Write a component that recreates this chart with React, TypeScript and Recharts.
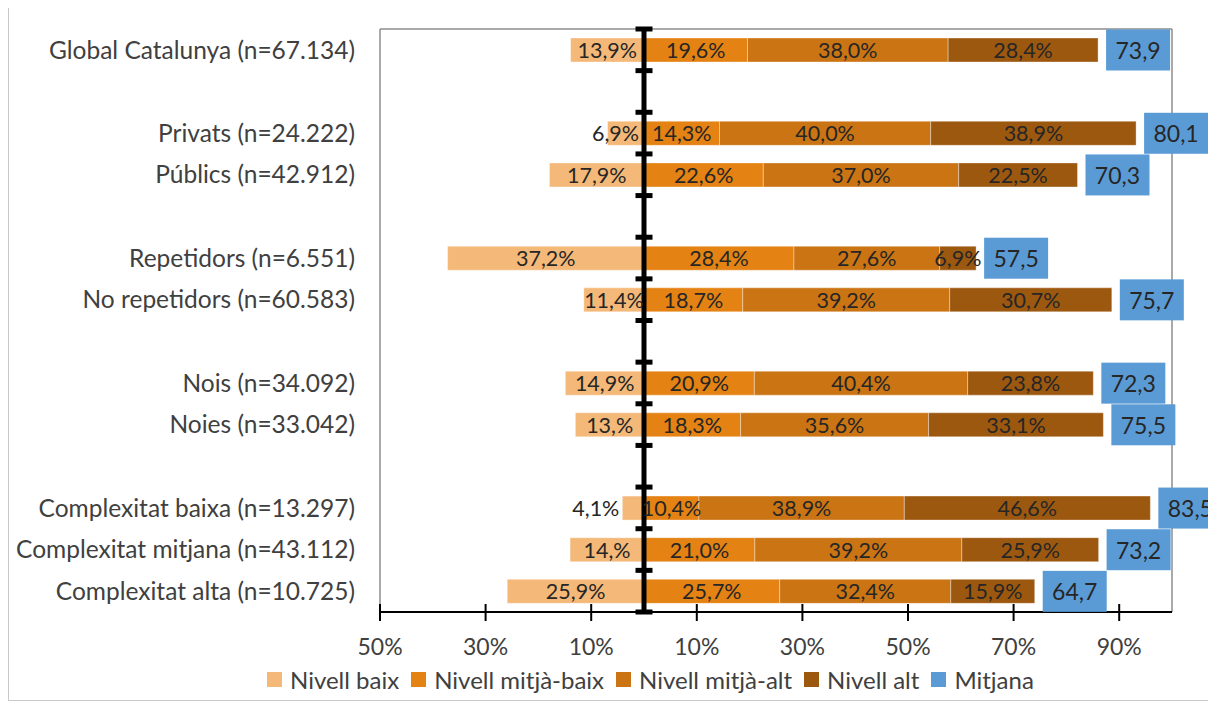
import { Bar, BarChart, CartesianGrid, LabelList, Legend, ReferenceLine, XAxis, YAxis } from 'recharts'

const FONT = 'Lato, "Noto Sans", sans-serif'
const TEXT = '#262626'
const AXIS_TEXT = '#404040'

const COLORS = {
  baix: '#F4B978',
  mitjaBaix: '#E48213',
  mitjaAlt: '#CB7414',
  alt: '#9D5810',
  mitjana: '#5B9BD5',
}

// blank rows are spacer rows between the groups
const categories = [
  'Global Catalunya (n=67.134)',
  ' ',
  'Privats (n=24.222)',
  'Públics (n=42.912)',
  '  ',
  'Repetidors (n=6.551)',
  'No repetidors (n=60.583)',
  '   ',
  'Nois (n=34.092)',
  'Noies (n=33.042)',
  '    ',
  'Complexitat baixa (n=13.297)',
  'Complexitat mitjana (n=43.112)',
  'Complexitat alta (n=10.725)',
]
const nivellBaix = [13.9, null, 6.9, 17.9, null, 37.2, 11.4, null, 14.9, 13.0, null, 4.1, 14.0, 25.9]
const nivellMitjaBaix = [19.6, null, 14.3, 22.6, null, 28.4, 18.7, null, 20.9, 18.3, null, 10.4, 21.0, 25.7]
const nivellMitjaAlt = [38.0, null, 40.0, 37.0, null, 27.6, 39.2, null, 40.4, 35.6, null, 38.9, 39.2, 32.4]
const nivellAlt = [28.4, null, 38.9, 22.5, null, 6.9, 30.7, null, 23.8, 33.1, null, 46.6, 25.9, 15.9]
const mitjana = [73.9, null, 80.1, 70.3, null, 57.5, 75.7, null, 72.3, 75.5, null, 83.5, 73.2, 64.7]

const xTicks = [-50, -30, -10, 10, 30, 50, 70, 90]

const data = categories.map((name, i) => ({
  name,
  baix: nivellBaix[i] == null ? null : -(nivellBaix[i] as number),
  mitjaBaix: nivellMitjaBaix[i],
  mitjaAlt: nivellMitjaAlt[i],
  alt: nivellAlt[i],
  mitjana: mitjana[i],
}))

const legendItems = [
  { label: 'Nivell baix', color: COLORS.baix },
  { label: 'Nivell mitjà-baix', color: COLORS.mitjaBaix },
  { label: 'Nivell mitjà-alt', color: COLORS.mitjaAlt },
  { label: 'Nivell alt', color: COLORS.alt },
  { label: 'Mitjana', color: COLORS.mitjana },
]

// Excel style formats: "0,0%" for most, "#,#%" for the low level series
const fmtPct = (v: number) => Math.abs(v).toFixed(1).replace('.', ',') + '%'
const fmtPctShort = (v: number) => {
  const [i, d] = Math.abs(v).toFixed(1).split('.')
  return `${i},${d === '0' ? '' : d}%`
}
const fmtMean = (v: number) => v.toFixed(1).replace('.', ',')

const makeLabel = (fmt: (v: number) => string, nudgeNarrow = false) => (props: any) => {
  const { x, y, width, height, value } = props
  if (value == null) return null
  const left = Math.min(Number(x), Number(x) + Number(width))
  const w = Math.abs(Number(width))
  const cy = Number(y) + Number(height) / 2
  let tx = left + w / 2
  let anchor: 'middle' | 'end' = 'middle'
  if (nudgeNarrow && w < 30) {
    tx = left - 3
    anchor = 'end'
  } else if (nudgeNarrow && w < 45) {
    tx = left + w - 5
    anchor = 'end'
  }
  return (
    <text
      x={tx}
      y={cy}
      textAnchor={anchor}
      dominantBaseline="central"
      fill={TEXT}
      fontSize={21.5}
      fontFamily={FONT}
    >
      {fmt(Number(value))}
    </text>
  )
}

const MeanLabel = (props: any) => {
  const { x, y, width, height, value } = props
  if (value == null) return null
  const end = Number(x) + Number(width)
  const cy = Number(y) + Number(height) / 2
  return (
    <g>
      <rect x={end + 8} y={cy - 20.5} width={64} height={41} fill={COLORS.mitjana} />
      <text
        x={end + 40}
        y={cy}
        textAnchor="middle"
        dominantBaseline="central"
        fill={TEXT}
        fontSize={23}
        fontFamily={FONT}
      >
        {fmtMean(Number(value))}
      </text>
    </g>
  )
}

const XTick = (props: any) => {
  const { x, y, payload } = props
  return (
    <g>
      <line x1={x} x2={x} y1={y - 8} y2={y + 9} stroke="#000" strokeWidth={2} />
      <text
        x={x}
        y={y + 34}
        textAnchor="middle"
        dominantBaseline="central"
        fill={AXIS_TEXT}
        fontSize={23}
        fontFamily={FONT}
      >
        {Math.abs(payload.value)}%
      </text>
    </g>
  )
}

// thick zero axis with a tick at every row boundary
const ZeroAxis = (props: any) => {
  const { x1, y1, y2 } = props
  const top = Math.min(y1, y2)
  const bottom = Math.max(y1, y2)
  const step = (bottom - top) / categories.length
  return (
    <g>
      <line x1={x1} x2={x1} y1={top} y2={bottom} stroke="#000" strokeWidth={5} />
      {categories.concat(['']).map((_, i) => (
        <line
          key={i}
          x1={x1 - 8.5}
          x2={x1 + 8.5}
          y1={top + i * step}
          y2={top + i * step}
          stroke="#000"
          strokeWidth={5}
        />
      ))}
    </g>
  )
}

const LegendContent = () => (
  <div
    style={{
      display: 'flex',
      alignItems: 'center',
      height: 30,
      paddingLeft: 258,
      paddingBottom: 4,
      boxSizing: 'border-box',
      fontFamily: FONT,
      fontSize: 24,
      color: AXIS_TEXT,
      whiteSpace: 'nowrap',
    }}
  >
    {legendItems.map((it) => (
      <div key={it.label} style={{ display: 'flex', alignItems: 'center', marginRight: 12 }}>
        <span style={{ width: 15, height: 15, background: it.color, marginRight: 8, display: 'inline-block' }} />
        {it.label}
      </div>
    ))}
  </div>
)

export default function App() {
  return (
    <div
      style={{
        width: 1199,
        height: 692,
        borderTop: '1px solid #c9c9c9',
        borderLeft: '1px solid #c9c9c9',
        borderBottom: '1px solid #c9c9c9',
        marginTop: -1,
        background: '#fff',
      }}
    >
      <BarChart
        width={1207}
        height={692}
        data={data}
        layout="vertical"
        stackOffset="sign"
        barSize={24}
        margin={{ top: 21, right: 44, left: 0, bottom: 4 }}
      >
        <CartesianGrid
          stroke="#8c8c8c"
          strokeWidth={1.5}
          horizontalCoordinatesGenerator={({ offset }: any) => [offset.top]}
          verticalCoordinatesGenerator={({ offset }: any) => [offset.left + offset.width]}
        />
        <XAxis
          type="number"
          domain={[-50, 100]}
          ticks={xTicks}
          allowDataOverflow
          height={54}
          axisLine={{ stroke: '#000', strokeWidth: 2 }}
          tickLine={false}
          tickSize={0}
          tickMargin={0}
          tick={<XTick />}
          interval={0}
        />
        <YAxis
          type="category"
          dataKey="name"
          width={371}
          axisLine={{ stroke: '#8c8c8c', strokeWidth: 1.5 }}
          tickLine={false}
          tickSize={0}
          tickMargin={25}
          interval={0}
          tick={{ fill: AXIS_TEXT, fontSize: 24.5, fontFamily: FONT }}
        />
        <Legend verticalAlign="bottom" content={<LegendContent />} />
        <Bar dataKey="baix" stackId="s" fill={COLORS.baix} stroke="rgba(255,255,255,0.35)" isAnimationActive={false}>
          <LabelList dataKey="baix" content={makeLabel(fmtPctShort, true)} />
        </Bar>
        <Bar dataKey="mitjaBaix" stackId="s" fill={COLORS.mitjaBaix} stroke="rgba(255,255,255,0.35)" isAnimationActive={false}>
          <LabelList dataKey="mitjaBaix" content={makeLabel(fmtPct)} />
        </Bar>
        <Bar dataKey="mitjaAlt" stackId="s" fill={COLORS.mitjaAlt} stroke="rgba(255,255,255,0.35)" isAnimationActive={false}>
          <LabelList dataKey="mitjaAlt" content={makeLabel(fmtPct)} />
        </Bar>
        <Bar dataKey="alt" stackId="s" fill={COLORS.alt} stroke="rgba(255,255,255,0.35)" isAnimationActive={false}>
          <LabelList dataKey="alt" content={makeLabel(fmtPct)} />
          <LabelList dataKey="mitjana" content={MeanLabel} />
        </Bar>
        <ReferenceLine x={0} shape={ZeroAxis} />
      </BarChart>
    </div>
  )
}
